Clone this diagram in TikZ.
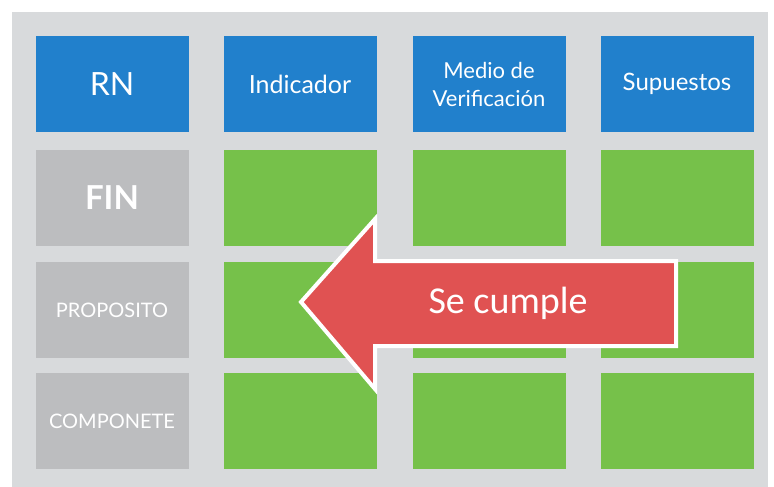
\documentclass[tikz,border=0pt]{standalone}
\usepackage{fontspec}
\setmainfont{Lato}
\newfontfamily\arrowfont{Carlito}
\usetikzlibrary{positioning}

\definecolor{panelgray}{HTML}{D8DADC}
\definecolor{rowgray}{HTML}{BCBDBF}
\definecolor{headblue}{HTML}{2180CC}
\definecolor{cellgreen}{HTML}{76C14A}
\definecolor{arrowred}{HTML}{E05252}

\tikzset{
  cell/.style={minimum width=153pt, minimum height=96pt, inner sep=0pt, text=white, align=center},
  head/.style={cell, fill=headblue, font=\fontsize{25}{27}\selectfont},
  rowname/.style={cell, fill=rowgray, font=\fontsize{20}{22}\selectfont},
  empty/.style={cell, fill=cellgreen}
}

\begin{document}
\begin{tikzpicture}[x=1pt, y=-1pt]
  \useasboundingbox (0,0) rectangle (774,487);
  \fill[white] (0,0) rectangle (774,487);
  \fill[panelgray] (12,12) rectangle (768,487);

  % header row
  \node[head, font=\fontsize{32}{34}\selectfont] (rn) at (112,84) {RN};
  \node[head] (ind) at (300,84) {Indicador};
  \node[head, font=\fontsize{22}{28}\selectfont] (medio) at (489,84) {Medio de\\Verificación};
  \node[head, font=\fontsize{24}{26}\selectfont] (sup) at (677,84) {Supuestos};

  % row names
  \node[rowname, font=\bfseries\fontsize{33}{35}\selectfont] (fin) at (112,198) {FIN};
  \node[rowname] (prop) at (112,310) {PROPOSITO};
  \node[rowname] (comp) at (112,421) {COMPONETE};

  % cells
  \node[empty] (fin-ind) at (300,198) {};
  \node[empty] (fin-medio) at (489,198) {};
  \node[empty] (fin-sup) at (677,198) {};
  \node[empty] (prop-ind) at (300,310) {};
  \node[empty] (prop-medio) at (489,310) {};
  \node[empty] (prop-sup) at (677,310) {};
  \node[empty] (comp-ind) at (300,421) {};
  \node[empty] (comp-medio) at (489,421) {};
  \node[empty] (comp-sup) at (677,421) {};

  % arrow
  \draw[white, line width=4pt, line join=miter, fill=arrowred]
    (301,302) -- (375,219) -- (375,261) -- (676,261) -- (676,346)
    -- (375,346) -- (375,389) -- cycle;
  \node[text=white, font=\arrowfont\fontsize{38}{40}\selectfont] (cumple) at (508,303) {Se cumple};
\end{tikzpicture}
\end{document}
